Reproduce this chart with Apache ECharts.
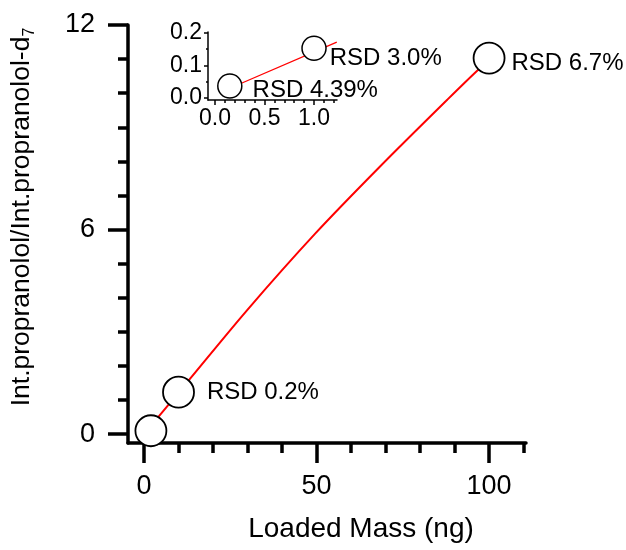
<!DOCTYPE html>
<html>
<head>
<meta charset="utf-8">
<style>
  html, body { margin: 0; padding: 0; background: #fff; }
  #chart { width: 626px; height: 550px; }
</style>
<script src="https://cdn.jsdelivr.net/npm/echarts@6/dist/echarts.min.js"></script>
</head>
<body>
<div id="chart"></div>
<script>
// Calibration points: loaded mass (ng) vs. intensity ratio
const massNg = [2, 10, 100];
const ratio = [0.1, 1.23, 11.03];
const rsdMain = ['', 'RSD 0.2%', 'RSD 6.7%'];

// Fitted calibration curve (main panel)
const fitMass = [2, 4.1, 7.0, 13.3, 29.9, 49.6, 68.4, 87.8, 97.4, 100.9];
const fitRatio = [0.25, 0.50, 0.85, 1.62, 3.64, 5.88, 7.85, 9.80, 10.74, 11.03];

// Low-mass range (inset)
const lowMass = [0.15, 1.0];
const lowRatio = [0.037, 0.153];
const rsdLow = ['RSD 4.39%', 'RSD 3.0%'];
const lowFitMass = [0.15, 1.23];
const lowFitRatio = [0.030, 0.172];

// Tick values
const mainXTicks = [0, 50, 100];
const mainXMinor = [10, 20, 30, 40, 60, 70, 80, 90, 110];
const mainYTicks = [0, 6, 12];
const mainYMinor = [1, 2, 3, 4, 5, 7, 8, 9, 10, 11];
const insetXTicks = [0, 0.5, 1.0];
const insetXMinor = [0.1, 0.2, 0.3, 0.4, 0.6, 0.7, 0.8, 0.9, 1.1, 1.2];
const insetYTicks = [0, 0.1, 0.2];
const insetYMinor = [0.05, 0.15];

const FONT = "'Liberation Sans', Arial, Helvetica, sans-serif";
const pairs = (xs, ys) => xs.map((x, i) => [x, ys[i]]);

// label placement for each annotated point
const mainLabelStyle = [null, { distance: 12, offset: [0, 0] }, { distance: 6, offset: [0, 5] }];
const lowLabelStyle = [{ distance: 10, offset: [0, 4] }, { distance: 3, offset: [0, 10] }];

function pointData(xs, ys, texts, styles) {
  return xs.map((x, i) => ({
    value: [x, ys[i]],
    label: texts[i] ? Object.assign({
      show: true, position: 'right', formatter: texts[i],
      color: '#000', fontSize: 24, fontFamily: FONT
    }, styles[i]) : { show: false }
  }));
}

function axis(gridIndex, min, max, opts) {
  const base = {
    type: 'value', gridIndex, min, max,
    splitLine: { show: false },
    axisLine: { show: opts.line, onZero: false, lineStyle: { color: '#000', width: opts.lw } },
    axisTick: { show: true, inside: false, customValues: opts.ticks, length: opts.tl, lineStyle: { color: '#000', width: opts.lw } },
    axisLabel: opts.labels ? {
      show: true, customValues: opts.ticks, margin: opts.margin,
      color: '#000', fontSize: opts.fs, fontFamily: FONT,
      formatter: opts.fmt
    } : { show: false }
  };
  if (opts.position) base.position = opts.position;
  return Object.assign(base, opts.extra || {});
}

const chart = echarts.init(document.getElementById('chart'), null, { renderer: 'canvas' });

chart.setOption({
  animation: false,
  backgroundColor: '#fff',
  grid: [
    { left: 128, top: 25, right: 100, bottom: 107, outerBoundsMode: 'none', containLabel: false },
    { left: 208, top: 32, right: 289, bottom: 450, outerBoundsMode: 'none', containLabel: false }
  ],
  xAxis: [
    axis(0, -4.64, 110.7, {
      line: true, lw: 3.5, ticks: mainXTicks, tl: 20, labels: true, margin: 30, fs: 27,
      fmt: v => String(Math.round(v)), position: 'bottom',
      extra: {
        name: 'Loaded Mass (ng)', nameLocation: 'middle', nameGap: 72,
        nameTextStyle: { color: '#000', fontSize: 28, fontFamily: FONT, padding: [0, 0, 0, 68] }
      }
    }),
    axis(0, -4.64, 110.7, { line: false, lw: 3.5, ticks: mainXMinor, tl: 10, labels: false, position: 'bottom' }),
    axis(1, -0.07, 1.232, {
      line: true, lw: 1.5, ticks: insetXTicks, tl: 5, labels: true, margin: 7, fs: 23,
      fmt: v => v.toFixed(1), position: 'bottom'
    }),
    axis(1, -0.07, 1.232, { line: false, lw: 1.5, ticks: insetXMinor, tl: 3, labels: false, position: 'bottom' })
  ],
  yAxis: [
    axis(0, -0.26, 12, {
      line: true, lw: 3.5, ticks: mainYTicks, tl: 20, labels: true, margin: 33, fs: 27,
      fmt: v => String(Math.round(v)), position: 'left',
      extra: {
        name: 'Int.propranolol/Int.propranolol-d{sub|7}', nameLocation: 'middle', nameGap: 90,
        nameTextStyle: {
          color: '#000', fontSize: 26.5, fontFamily: FONT, padding: [0, 0, 0, 34],
          rich: { sub: { fontSize: 16, fontFamily: FONT, color: '#000', padding: [16, 0, 0, 0] } }
        }
      }
    }),
    axis(0, -0.26, 12, { line: false, lw: 3.5, ticks: mainYMinor, tl: 10, labels: false, position: 'left' }),
    axis(1, -0.006, 0.203, {
      line: true, lw: 1.5, ticks: insetYTicks, tl: 4, labels: true, margin: 6, fs: 23,
      fmt: v => v.toFixed(1), position: 'left'
    }),
    axis(1, -0.006, 0.203, { line: false, lw: 1.5, ticks: insetYMinor, tl: 2, labels: false, position: 'left' })
  ],
  series: [
    {
      type: 'line', xAxisIndex: 0, yAxisIndex: 0,
      data: pairs(fitMass, fitRatio), showSymbol: false, symbol: 'none', smooth: 0.3,
      lineStyle: { color: '#ff0000', width: 2 }, z: 2, silent: true
    },
    {
      type: 'scatter', xAxisIndex: 0, yAxisIndex: 0,
      data: pointData(massNg, ratio, rsdMain, mainLabelStyle),
      symbol: 'circle', symbolSize: 31,
      itemStyle: { color: '#fff', borderColor: '#000', borderWidth: 1.8, opacity: 1 }, z: 3
    },
    {
      type: 'line', xAxisIndex: 2, yAxisIndex: 2,
      data: pairs(lowFitMass, lowFitRatio), showSymbol: false, symbol: 'none',
      lineStyle: { color: '#ff0000', width: 1.2 }, z: 2, silent: true
    },
    {
      type: 'scatter', xAxisIndex: 2, yAxisIndex: 2,
      data: pointData(lowMass, lowRatio, rsdLow, lowLabelStyle),
      symbol: 'circle', symbolSize: 24,
      itemStyle: { color: '#fff', borderColor: '#000', borderWidth: 1.5, opacity: 1 }, z: 3
    }
  ]
});
</script>
</body>
</html>
